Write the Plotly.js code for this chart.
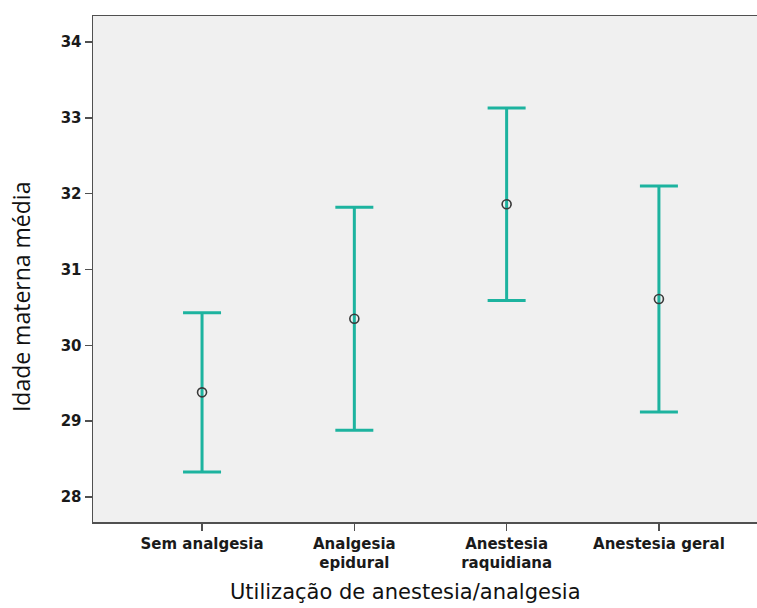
<!DOCTYPE html>
<html>
<head>
<meta charset="utf-8">
<script src="https://cdn.plot.ly/plotly-3.0.1.min.js"></script>
<style>html,body{margin:0;padding:0;background:#fff;}#chart{width:757px;height:608px;}</style>
</head>
<body>
<div id="chart"></div>
<script>
const categories = ["Sem analgesia", "Analgesia<br>epidural", "Anestesia<br>raquidiana", "Anestesia geral"];
const means = [29.38, 30.35, 31.86, 30.61];
const upper = [30.43, 31.82, 33.13, 32.10];
const lower = [28.33, 28.88, 30.59, 29.12];
const yTicks = [28, 29, 30, 31, 32, 33, 34];

const plus = means.map((m, i) => +(upper[i] - m).toFixed(3));
const minus = means.map((m, i) => +(m - lower[i]).toFixed(3));

const teal = '#1db39f';
const trace = {
  type: 'scatter',
  mode: 'markers',
  x: categories,
  y: means,
  marker: {symbol: 'circle-open', size: 9, color: '#3a3a3a', line: {width: 1.6, color: '#3a3a3a'}},
  error_y: {type: 'data', symmetric: false, array: plus, arrayminus: minus, color: teal, thickness: 3, width: 19},
  hoverinfo: 'skip',
  showlegend: false
};

const layout = {
  width: 757, height: 608,
  margin: {l: 93, r: 0, t: 16, b: 86},
  paper_bgcolor: '#ffffff',
  plot_bgcolor: '#f0f0f0',
  xaxis: {
    type: 'category',
    range: [-0.716, 3.644],
    showgrid: false, zeroline: false,
    showline: true, mirror: true, linecolor: '#505050', linewidth: 1.5,
    ticks: 'outside', ticklen: 7, tickwidth: 1.5, tickcolor: '#505050',
    tickfont: {family: 'DejaVu Sans', size: 15, color: '#1a1a1a', weight: 'bold'}
  },
  yaxis: {
    range: [27.671, 34.342],
    tickvals: yTicks,
    ticktext: yTicks.map(String),
    showgrid: false, zeroline: false,
    showline: true, linecolor: '#505050', linewidth: 1.5,
    ticks: 'outside', ticklen: 7, tickwidth: 1.5, tickcolor: '#505050',
    tickfont: {family: 'DejaVu Sans', size: 15, color: '#1a1a1a', weight: 'bold'}
  },
  annotations: [
    {text: 'Utilização de anestesia/analgesia', xref: 'paper', yref: 'paper', x: 0.471, y: -0.138,
     xanchor: 'center', yanchor: 'middle', showarrow: false,
     font: {family: 'DejaVu Sans', size: 21, color: '#111'}},
    {text: 'Idade materna média', xref: 'paper', yref: 'paper', x: -0.108, y: 0.445,
     xanchor: 'center', yanchor: 'middle', textangle: -90, showarrow: false,
     font: {family: 'Open Sans', size: 23, color: '#111'}}
  ]
};

Plotly.newPlot('chart', [trace], layout, {displayModeBar: false, staticPlot: true});
</script>
</body>
</html>
